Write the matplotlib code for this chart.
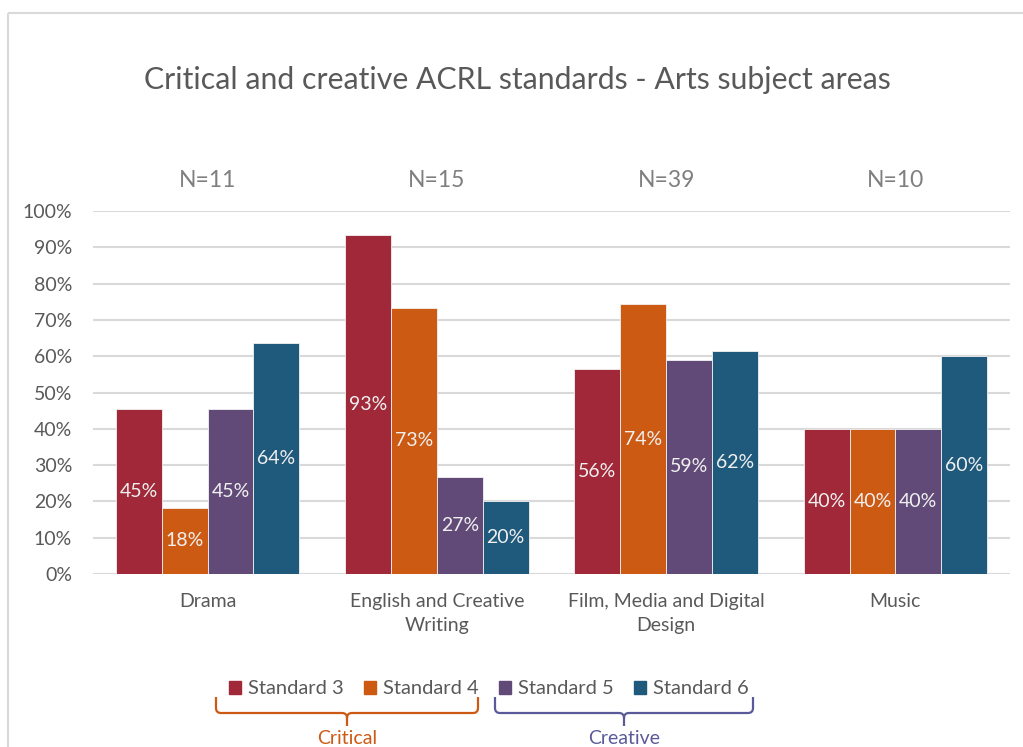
import matplotlib.pyplot as plt
import numpy as np
from matplotlib.path import Path
from matplotlib.patches import PathPatch, Rectangle, Patch

plt.rcParams['font.family'] = ['Lato', 'DejaVu Sans']

# data
subjects = ["Drama", "English and Creative\nWriting", "Film, Media and Digital\nDesign", "Music"]
n_counts = [11, 15, 39, 10]
standards = ["Standard 3", "Standard 4", "Standard 5", "Standard 6"]
std3 = [5/11, 14/15, 22/39, 4/10]
std4 = [2/11, 11/15, 29/39, 4/10]
std5 = [5/11, 4/15, 23/39, 4/10]
std6 = [7/11, 3/15, 24/39, 6/10]
series = [std3, std4, std5, std6]
colors = ["#A02838", "#CC5A12", "#614A78", "#1F5A7C"]

W, H = 1023, 747
fig = plt.figure(figsize=(W/100, H/100), dpi=100)

# pixel-space overlay for the frame and the group braces
bg = fig.add_axes([0, 0, 1, 1], zorder=-1)
bg.set_xlim(0, W)
bg.set_ylim(H, 0)
bg.axis('off')
bg.add_patch(Rectangle((8, 13), 1100, 900, fill=False, ec="#D9D9D9", lw=1.5))

ax = fig.add_axes([93/W, 1-574/H, (1010-93)/W, (574-211)/H])
x = np.arange(len(subjects))
bw = 0.2
for i, (vals, c) in enumerate(zip(series, colors)):
    pos = x + (i - 1.5)*bw
    bars = ax.bar(pos, vals, bw, color=c, edgecolor="#F2F2F2", linewidth=0.6, zorder=3,
                  label=standards[i])
    for b, v in zip(bars, vals):
        ax.text(b.get_x() + b.get_width()/2, v/2, "{:.0%}".format(v), ha='center', va='center',
                color="#F0F0F0", fontsize=14, zorder=4)

ax.set_xlim(-0.5, 3.5)
ax.set_ylim(0, 1)
ax.set_yticks(np.arange(0, 1.01, 0.1))
ax.set_yticklabels(["{:.0%}".format(t) for t in np.arange(0, 1.01, 0.1)])
ax.set_xticks(x)
ax.set_xticklabels(subjects, linespacing=1.45)
ax.tick_params(axis='both', length=0, labelcolor="#595959", labelsize=14)
ax.tick_params(axis='y', pad=15)
ax.tick_params(axis='x', pad=14)
ax.grid(axis='y', color="#D9D9D9", lw=1.5, zorder=0)
for s in ax.spines.values():
    s.set_visible(False)

for xi, n in zip(x, n_counts):
    ax.text(xi, 1.085, "N={}".format(n), ha='center', va='center', color="#7F7F7F",
            fontsize=16.5, transform=ax.get_xaxis_transform())

fig.text(517/W, 1-80/H, "Critical and creative ACRL standards - Arts subject areas",
         ha='center', va='center', color="#595959", fontsize=21.8)

handles = [Patch(color=c) for c in colors]
fig.legend(handles, standards, loc='center', bbox_to_anchor=(489/W, 1-689/H), ncol=4,
           frameon=False, fontsize=14.5, labelcolor="#595959", handlelength=0.6, handleheight=0.6,
           handletextpad=0.35, columnspacing=1.0)


def brace(x0, x1, color, label):
    cx = (x0 + x1)/2
    top, mid, tip, r = 697, 713, 726, 5
    verts = [(x0, top), (x0, mid - r), (x0, mid), (x0 + r, mid), (cx - r, mid), (cx, mid), (cx, mid + r),
             (cx, tip),
             (x1, top), (x1, mid - r), (x1, mid), (x1 - r, mid), (cx + r, mid), (cx, mid), (cx, mid + r)]
    codes = [Path.MOVETO, Path.LINETO, Path.CURVE3, Path.CURVE3, Path.LINETO, Path.CURVE3, Path.CURVE3,
             Path.LINETO,
             Path.MOVETO, Path.LINETO, Path.CURVE3, Path.CURVE3, Path.LINETO, Path.CURVE3, Path.CURVE3]
    bg.add_patch(PathPatch(Path(verts, codes), fill=False, ec=color, lw=1.6))
    bg.text(cx, 738, label, ha='center', va='center', color=color, fontsize=14)


brace(216, 478, "#CC5A12", "Critical")
brace(495, 753, "#5A5A9A", "Creative")

fig.savefig("out.png", dpi=100)
